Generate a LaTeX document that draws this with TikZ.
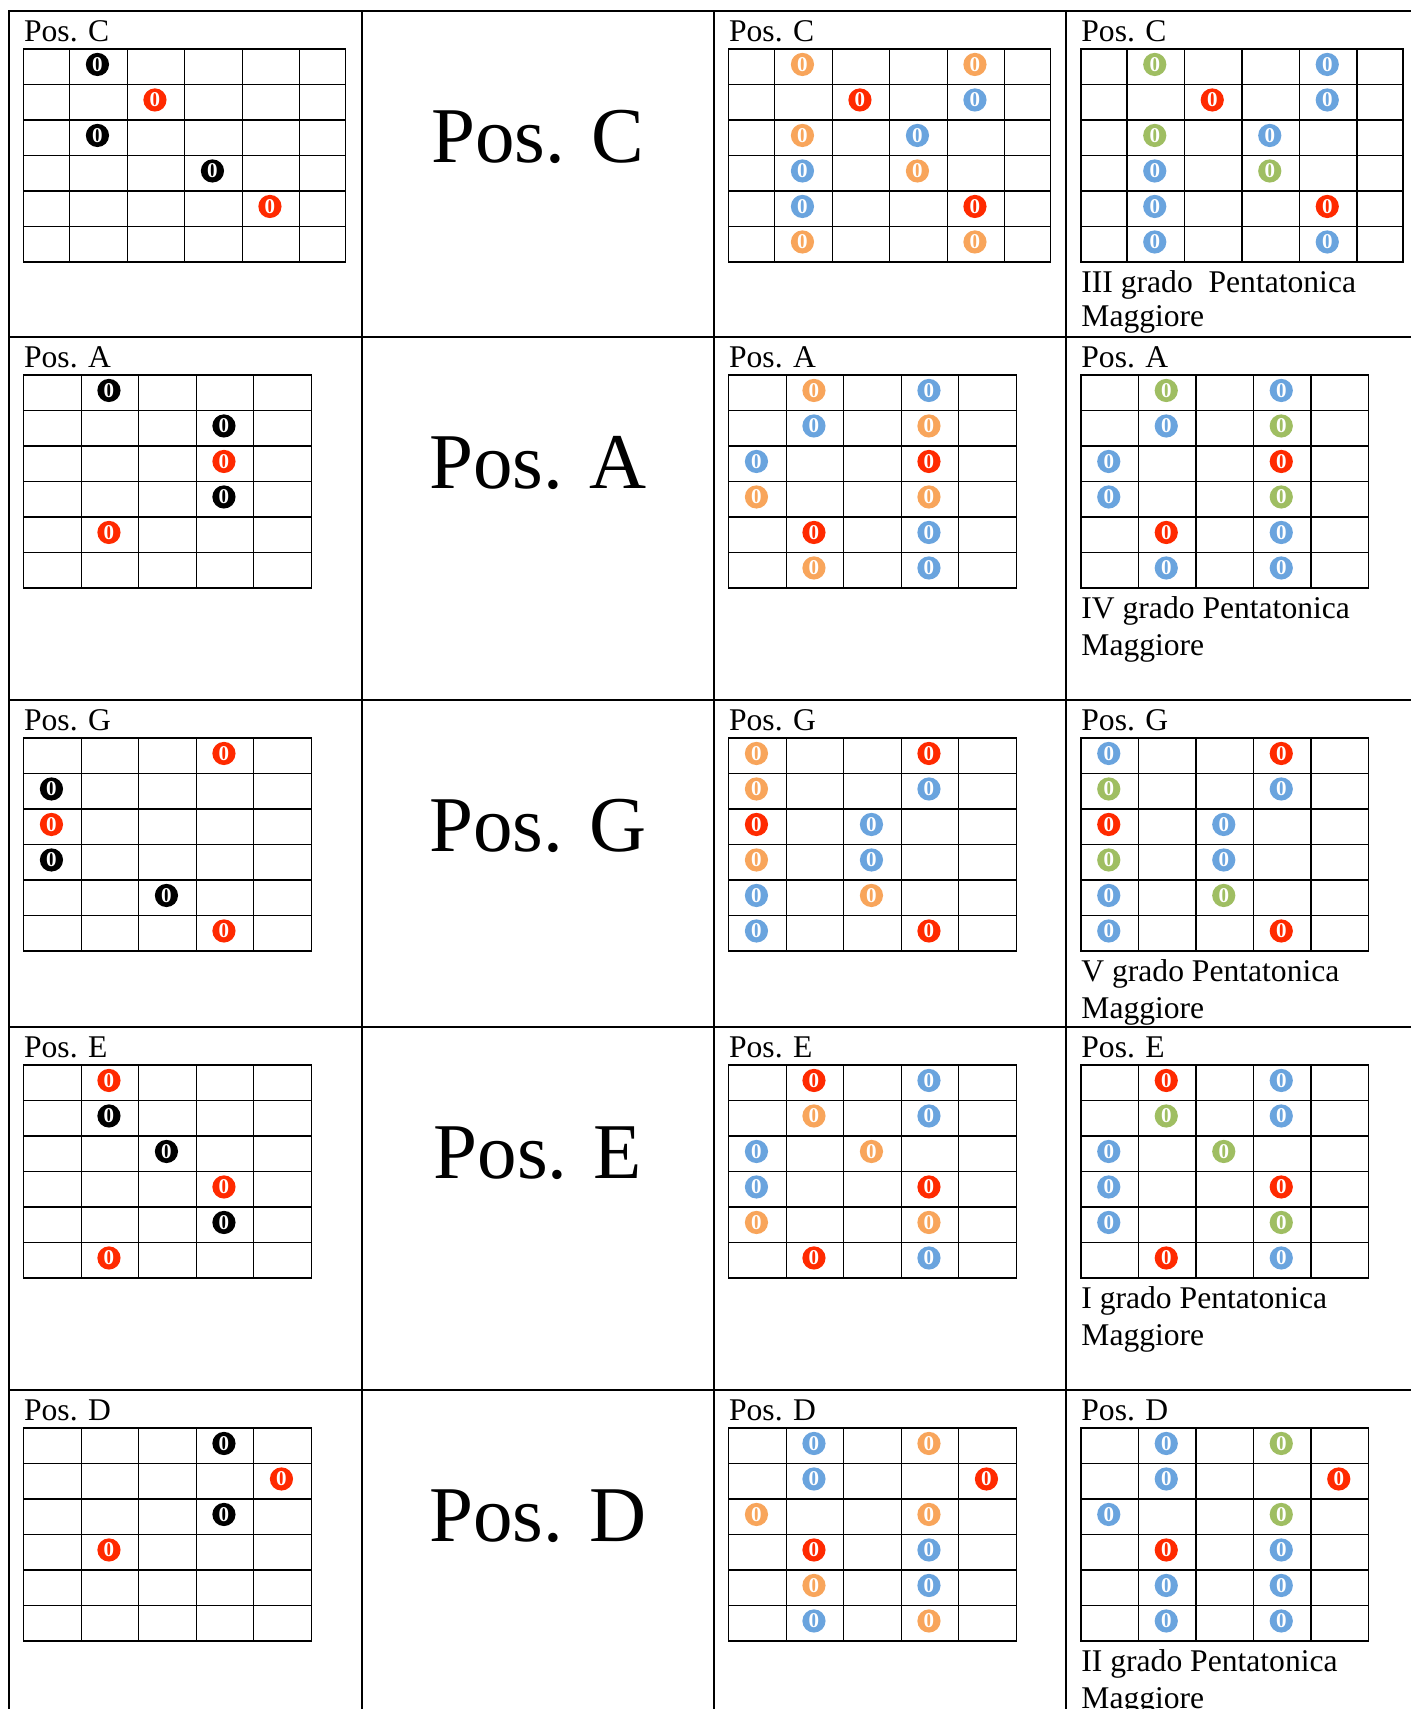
\documentclass[tikz,border=0pt]{standalone}
\usepackage{fontspec}
\setmainfont{Liberation Serif}
\usetikzlibrary{positioning}

\definecolor{rootRed}{HTML}{FF2A00}
\definecolor{fifthOrange}{HTML}{F8A55B}
\definecolor{scaleBlue}{HTML}{6AA4DE}
\definecolor{thirdGreen}{HTML}{9FBE62}

% fretboard: name, origin, left edge, right edge, notes (fret/string/style)
\newcommand{\fretboard}[5]{%
    \begin{scope}[shift={(#2)}]
        \draw[fretLine] (#3,0) rectangle (#4,213);
        \foreach \r in {1,...,5}
            \draw[fretLine] (#3,35.5*\r) -- (#4,35.5*\r);
        \foreach \x in {57.5,115,172.5,230,287.5}
            \draw[fretLine] (\x,0) -- (\x,213);
        \foreach \c/\r/\s in {#5}
            \node[\s] (#1-\c-\r) at (57.5*\c-29.75,35.5*\r-20.05) {0};
    \end{scope}}

\begin{document}
\begin{tikzpicture}[
        x=0.5pt, y=-0.5pt,
        tableLine/.style={
            line width=0.85pt,
            draw=black
        },
        fretLine/.style={
            line width=0.7pt,
            draw=black
        },
        note/.style={
            circle,
            inner sep=0pt,
            minimum size=11.6pt,
            text=white,
            font=\fontsize{10.5}{10.5}\selectfont\bfseries
        },
        blackNote/.style={note, fill=black},
        redNote/.style={note, fill=rootRed},
        orangeNote/.style={note, fill=fifthOrange},
        blueNote/.style={note, fill=scaleBlue},
        greenNote/.style={note, fill=thirdGreen},
        posLabel/.style={
            anchor=base west,
            inner sep=0pt,
            font=\fontsize{15.8}{18}\selectfont
        },
        bigLabel/.style={
            anchor=base,
            inner sep=0pt,
            font=\fontsize{39.5}{40}\selectfont
        },
        gradoText/.style={
            anchor=base west,
            inner sep=0pt,
            font=\fontsize{15.8}{18}\selectfont
        }
    ]

        \useasboundingbox (0,0) rectangle (1411,1709);
        \fill[white] (0,0) rectangle (1411,1709);

        % Table rules
        \draw[tableLine] (9,1709) -- (9,11) -- (1411,11);
        \foreach \y in {337,700,1027,1390}
            \draw[tableLine] (9,\y) -- (1411,\y);
        \foreach \x in {362,714,1066}
            \draw[tableLine] (\x,11) -- (\x,1709);

        % Row 1
        \node[posLabel] (cLabelA) at (23.7,41.5) {Pos. C};
        \fretboard{cBoxA}{12.2,49}{11.5}{333.5}{2/1/blackNote, 3/2/redNote,
            2/3/blackNote, 4/4/blackNote, 5/5/redNote}
        \node[bigLabel] (cBig) at (538,162) {Pos. C};

        \node[posLabel] (cLabelB) at (728.7,41.5) {Pos. C};
        \fretboard{cBoxB}{717.2,49}{11.5}{333.5}{2/1/orangeNote, 5/1/orangeNote,
            3/2/redNote, 5/2/blueNote, 2/3/orangeNote, 4/3/blueNote,
            2/4/blueNote, 4/4/orangeNote, 2/5/blueNote, 5/5/redNote,
            2/6/orangeNote, 5/6/orangeNote}

        \node[posLabel] (cLabelC) at (1081,41.5) {Pos. C};
        \fretboard{cBoxC}{1069.5,49}{11.5}{333.5}{2/1/greenNote, 5/1/blueNote,
            3/2/redNote, 5/2/blueNote, 2/3/greenNote, 4/3/blueNote,
            2/4/blueNote, 4/4/greenNote, 2/5/blueNote, 5/5/redNote,
            2/6/blueNote, 5/6/blueNote}
        \node[gradoText] (cGrado) at (1081,292) {III grado\ \ Pentatonica};
        \node[gradoText] (cMaggiore) at ([yshift=-17pt]cGrado.base west) {Maggiore};

        % Row 2
        \node[posLabel] (aLabelA) at (23.7,367.5) {Pos. A};
        \fretboard{aBoxA}{23.7,375}{0}{287.5}{2/1/blackNote, 4/2/blackNote,
            4/3/redNote, 4/4/blackNote, 2/5/redNote}
        \node[bigLabel] (aBig) at (538,488) {Pos. A};

        \node[posLabel] (aLabelB) at (728.7,367.5) {Pos. A};
        \fretboard{aBoxB}{728.7,375}{0}{287.5}{2/1/orangeNote, 4/1/blueNote,
            2/2/blueNote, 4/2/orangeNote, 1/3/blueNote, 4/3/redNote,
            1/4/orangeNote, 4/4/orangeNote, 2/5/redNote, 4/5/blueNote,
            2/6/orangeNote, 4/6/blueNote}

        \node[posLabel] (aLabelC) at (1081,367.5) {Pos. A};
        \fretboard{aBoxC}{1081,375}{0}{287.5}{2/1/greenNote, 4/1/blueNote,
            2/2/blueNote, 4/2/greenNote, 1/3/blueNote, 4/3/redNote,
            1/4/blueNote, 4/4/greenNote, 2/5/redNote, 4/5/blueNote,
            2/6/blueNote, 4/6/blueNote}
        \node[gradoText] (aGrado) at (1081,618) {IV grado Pentatonica};
        \node[gradoText] (aMaggiore) at ([yshift=-18.5pt]aGrado.base west) {Maggiore};

        % Row 3
        \node[posLabel] (gLabelA) at (23.7,730.5) {Pos. G};
        \fretboard{gBoxA}{23.7,738}{0}{287.5}{4/1/redNote, 1/2/blackNote,
            1/3/redNote, 1/4/blackNote, 3/5/blackNote, 4/6/redNote}
        \node[bigLabel] (gBig) at (538,851) {Pos. G};

        \node[posLabel] (gLabelB) at (728.7,730.5) {Pos. G};
        \fretboard{gBoxB}{728.7,738}{0}{287.5}{1/1/orangeNote, 4/1/redNote,
            1/2/orangeNote, 4/2/blueNote, 1/3/redNote, 3/3/blueNote,
            1/4/orangeNote, 3/4/blueNote, 1/5/blueNote, 3/5/orangeNote,
            1/6/blueNote, 4/6/redNote}

        \node[posLabel] (gLabelC) at (1081,730.5) {Pos. G};
        \fretboard{gBoxC}{1081,738}{0}{287.5}{1/1/blueNote, 4/1/redNote,
            1/2/greenNote, 4/2/blueNote, 1/3/redNote, 3/3/blueNote,
            1/4/greenNote, 3/4/blueNote, 1/5/blueNote, 3/5/greenNote,
            1/6/blueNote, 4/6/redNote}
        \node[gradoText] (gGrado) at (1081,981) {V grado Pentatonica};
        \node[gradoText] (gMaggiore) at ([yshift=-18.5pt]gGrado.base west) {Maggiore};

        % Row 4
        \node[posLabel] (eLabelA) at (23.7,1057.5) {Pos. E};
        \fretboard{eBoxA}{23.7,1065}{0}{287.5}{2/1/redNote, 2/2/blackNote,
            3/3/blackNote, 4/4/redNote, 4/5/blackNote, 2/6/redNote}
        \node[bigLabel] (eBig) at (538,1178) {Pos. E};

        \node[posLabel] (eLabelB) at (728.7,1057.5) {Pos. E};
        \fretboard{eBoxB}{728.7,1065}{0}{287.5}{2/1/redNote, 4/1/blueNote,
            2/2/orangeNote, 4/2/blueNote, 1/3/blueNote, 3/3/orangeNote,
            1/4/blueNote, 4/4/redNote, 1/5/orangeNote, 4/5/orangeNote,
            2/6/redNote, 4/6/blueNote}

        \node[posLabel] (eLabelC) at (1081,1057.5) {Pos. E};
        \fretboard{eBoxC}{1081,1065}{0}{287.5}{2/1/redNote, 4/1/blueNote,
            2/2/greenNote, 4/2/blueNote, 1/3/blueNote, 3/3/greenNote,
            1/4/blueNote, 4/4/redNote, 1/5/blueNote, 4/5/greenNote,
            2/6/redNote, 4/6/blueNote}
        \node[gradoText] (eGrado) at (1081,1308) {I grado Pentatonica};
        \node[gradoText] (eMaggiore) at ([yshift=-18.5pt]eGrado.base west) {Maggiore};

        % Row 5
        \node[posLabel] (dLabelA) at (23.7,1420.5) {Pos. D};
        \fretboard{dBoxA}{23.7,1428}{0}{287.5}{4/1/blackNote, 5/2/redNote,
            4/3/blackNote, 2/4/redNote}
        \node[bigLabel] (dBig) at (538,1541) {Pos. D};

        \node[posLabel] (dLabelB) at (728.7,1420.5) {Pos. D};
        \fretboard{dBoxB}{728.7,1428}{0}{287.5}{2/1/blueNote, 4/1/orangeNote,
            2/2/blueNote, 5/2/redNote, 1/3/orangeNote, 4/3/orangeNote,
            2/4/redNote, 4/4/blueNote, 2/5/orangeNote, 4/5/blueNote,
            2/6/blueNote, 4/6/orangeNote}

        \node[posLabel] (dLabelC) at (1081,1420.5) {Pos. D};
        \fretboard{dBoxC}{1081,1428}{0}{287.5}{2/1/blueNote, 4/1/greenNote,
            2/2/blueNote, 5/2/redNote, 1/3/blueNote, 4/3/greenNote,
            2/4/redNote, 4/4/blueNote, 2/5/blueNote, 4/5/blueNote,
            2/6/blueNote, 4/6/blueNote}
        \node[gradoText] (dGrado) at (1081,1671) {II grado Pentatonica};
        \node[gradoText] (dMaggiore) at ([yshift=-18.5pt]dGrado.base west) {Maggiore};

    \end{tikzpicture}
\end{document}
